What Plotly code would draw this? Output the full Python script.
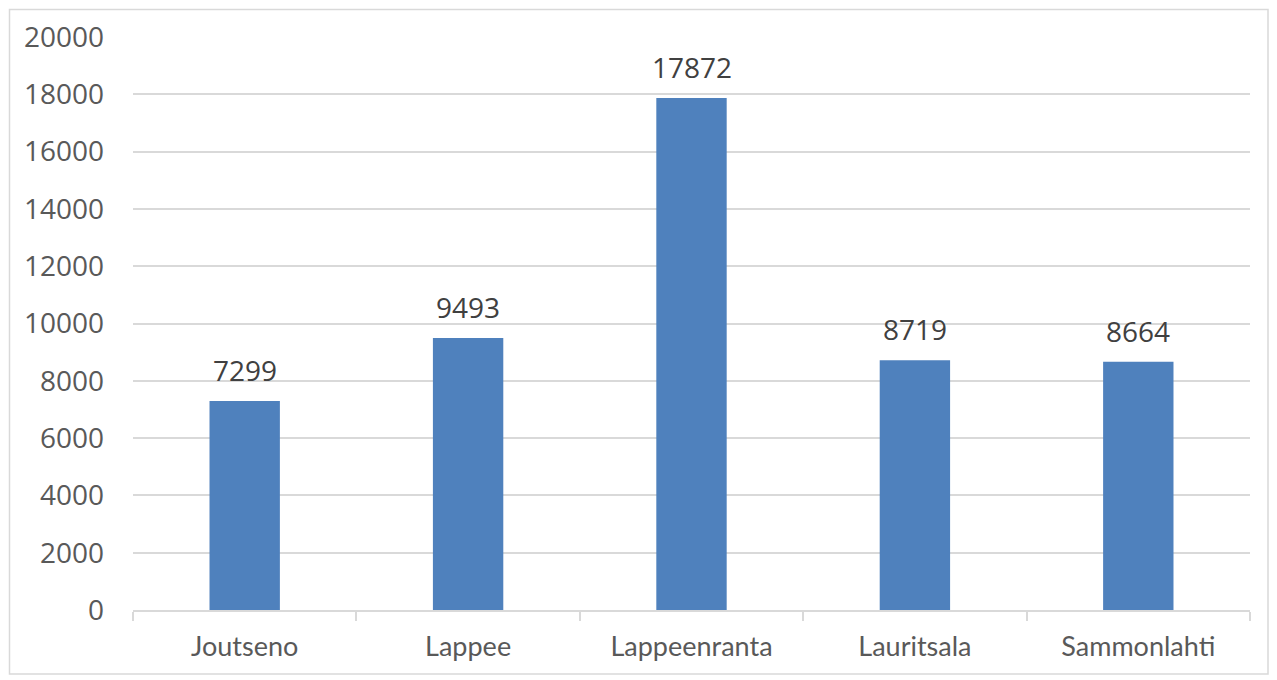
import plotly.graph_objects as go

categories = ["Joutseno", "Lappee", "Lappeenranta", "Lauritsala", "Sammonlahti"]
values = [7299, 9493, 17872, 8719, 8664]
y_ticks = [0, 2000, 4000, 6000, 8000, 10000, 12000, 14000, 16000, 18000, 20000]

OFF = 8  # default page body margin
W, H = 1277 - OFF, 680 - OFF
L, R, T, B = 133 - OFF, 27, 37 - OFF, 70
pw, ph = W - L - R, H - T - B

fig = go.Figure(go.Bar(
    x=categories, y=values,
    marker=dict(color="#4f81bd", line=dict(width=0)),
    width=0.315,
))

for c, v in zip(categories, values):
    fig.add_annotation(
        x=c, y=v, text=str(v), showarrow=False,
        yanchor="bottom", yshift=10,
        font=dict(size=28, color="#404040", family="Open Sans"),
    )

fig.update_layout(
    width=W, height=H,
    margin=dict(l=L, r=R, t=T, b=B, autoexpand=False),
    paper_bgcolor="white", plot_bgcolor="white",
    showlegend=False,
    xaxis=dict(
        showline=True, linecolor="#d9d9d9", linewidth=1.5,
        ticks="outside", tickson="boundaries", ticklen=9, tickcolor="#d9d9d9", tickwidth=1.5,
        tickfont=dict(size=27, color="#595959", family="Lato"),
        ticklabelstandoff=12,
        showgrid=False,
    ),
    yaxis=dict(
        range=[0, 20000], tickvals=y_ticks, ticktext=[str(v) for v in y_ticks],
        showgrid=True, gridcolor="#d9d9d9", gridwidth=1.5,
        zeroline=False, showline=False, ticks="",
        tickfont=dict(size=28, color="#595959", family="Open Sans"),
        ticklabelstandoff=28,
    ),
    shapes=[dict(
        type="rect", xref="paper", yref="paper",
        x0=(9.5 - 133) / pw, x1=(1268 - 133) / pw,
        y0=-(674 - 610) / ph, y1=1 + (37 - 9.5) / ph,
        line=dict(color="#d9d9d9", width=1.5), fillcolor="rgba(0,0,0,0)", layer="below",
    )],
)

fig.write_html("out.html")
